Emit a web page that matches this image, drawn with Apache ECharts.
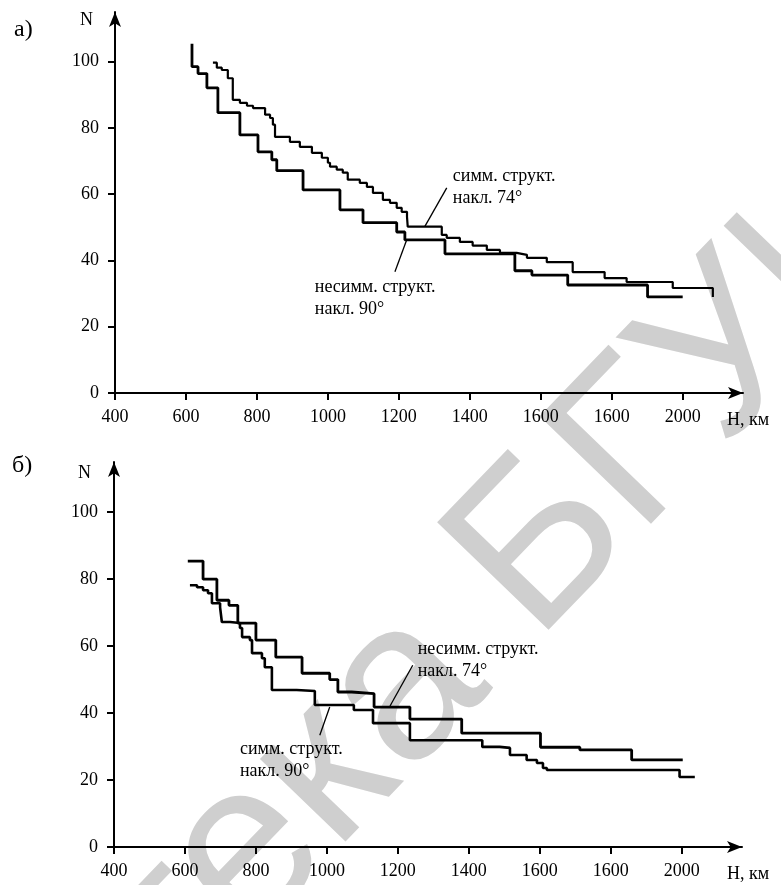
<!DOCTYPE html>
<html>
<head>
<meta charset="utf-8">
<script src="https://cdn.jsdelivr.net/npm/echarts@6/dist/echarts.min.js"></script>
<style>
  html, body { margin: 0; padding: 0; background: #fff; }
  #main { width: 781px; height: 885px; }
</style>
</head>
<body>
<div id="main"></div>
<script>
// tick values and labels (the scan prints "1600" twice)
var xTickValues = [400, 600, 800, 1000, 1200, 1400, 1600, 1800, 2000];
var xTickLabels = ["400", "600", "800", "1000", "1200", "1400", "1600", "1600", "2000"];
var yTickValues = [0, 20, 40, 60, 80, 100];

// panel а) : [H, N], each point starts a horizontal step
var symm74A = [
  [676, 99.7], [687, 98.2], [701, 97.5], [718, 95], [732, 88.5], [752, 87.6],
  [772, 86.7], [789, 86], [823, 84], [837, 83], [845, 81], [851, 77.3],
  [893, 75.8], [921, 74.3], [955, 72.5], [983, 71], [1000, 69.5], [1006, 68.3],
  [1025, 67.4], [1042, 66.5], [1056, 64.4], [1090, 63.4], [1110, 62.2], [1127, 60.4],
  [1155, 58.3], [1175, 57.4], [1194, 55.9], [1208, 54.7], [1223, 53.2], [1225, 50.2],
  [1321, 47.7], [1335, 46.8], [1372, 45.6], [1408, 44.5], [1448, 43.2], [1485, 42.3],
  [1532, 41.7], [1561, 40.8], [1617, 39.5], [1690, 36.5], [1780, 34.7], [1842, 33.5],
  [1972, 31.7], [2085, 31.7], [2085, 29]
];
var nesymm90A = [
  [617, 105.4], [617, 98.5], [634, 96.4], [659, 92.1], [690, 84.6], [752, 77.9],
  [803, 72.8], [842, 70.4], [856, 67.1], [930, 61.3], [1034, 55.3], [1099, 51.4],
  [1194, 48.6], [1217, 46.2], [1330, 42], [1527, 36.9], [1575, 35.6], [1676, 32.6],
  [1901, 29], [2000, 29]
];

// panel б)
var nesymm74B = [
  [608, 85.4], [651, 80], [690, 73.7], [724, 72.2], [749, 66.9], [800, 61.8],
  [856, 56.7], [930, 51.9], [1008, 50], [1031, 46.3], [1070, 45.8], [1133, 41.8],
  [1234, 38.2], [1380, 34], [1602, 29.8], [1713, 29], [1859, 26], [2003, 26]
];
var symm90B = [
  [614, 78.2], [634, 77.6], [651, 76.7], [665, 75.8], [676, 72.8], [699, 71.6],
  [704, 67.2], [727, 66.9], [755, 65.4], [761, 62.7], [783, 61.8], [789, 57.9],
  [817, 56.4], [825, 53.7], [845, 46.9], [915, 46.6], [966, 42.4], [1076, 40.9],
  [1130, 37], [1234, 31.9], [1438, 29.9], [1487, 29.6], [1516, 27.5], [1563, 26],
  [1592, 25.1], [1609, 23.6], [1620, 23], [1994, 20.9], [2037, 20.9]
];

// annotations: text anchor [H, N] and pointer line from/to [H, N]
var notes = [
  { grid: 0, text: "симм. структ.\nнакл. 74°", at: [1352, 68.8], from: [1335, 61.9], to: [1273, 50.2] },
  { grid: 0, text: "несимм. структ.\nнакл. 90°", at: [963, 35.2], from: [1189, 36.6], to: [1222, 46.2] },
  { grid: 1, text: "несимм. структ.\nнакл. 74°", at: [1256, 62.3], from: [1242, 54.3], to: [1178, 42.1] },
  { grid: 1, text: "симм. структ.\nнакл. 90°", at: [755, 32.5], from: [980, 33.4], to: [1008, 41.8] }
];

var serif = "Liberation Serif";
var black = "#000";

function xAxisFor(gi) {
  return {
    type: "value", gridIndex: gi, min: 400, max: 2170,
    axisLine: { show: true, lineStyle: { color: black, width: 2 }, symbol: ["none", "arrow"], symbolSize: [9, 15] },
    axisTick: { show: true, customValues: xTickValues, length: 7, lineStyle: { color: black, width: 2 } },
    axisLabel: {
      customValues: xTickValues, margin: 15, color: black, fontFamily: serif, fontSize: 18,
      formatter: function (v) { return xTickLabels[xTickValues.indexOf(v)]; }
    },
    splitLine: { show: false }
  };
}
function yAxisFor(gi) {
  return {
    type: "value", gridIndex: gi, min: 0, max: 115,
    axisLine: { show: true, lineStyle: { color: black, width: 2 }, symbol: ["none", "arrow"], symbolSize: [9, 15] },
    axisTick: { show: true, customValues: yTickValues, length: 7, lineStyle: { color: black, width: 2 } },
    axisLabel: { customValues: yTickValues, margin: 16, color: black, fontFamily: serif, fontSize: 18 },
    splitLine: { show: false }
  };
}
function stepSeries(name, data, gi, w) {
  return {
    name: name, type: "line", step: "end", data: data, xAxisIndex: gi, yAxisIndex: gi,
    showSymbol: false, animation: false, z: 3,
    lineStyle: { color: black, width: w }
  };
}

var fixedTexts = [
  { type: "text", x: 14, y: 18, style: { text: "а)", font: "24px " + serif, fill: black } },
  { type: "text", x: 80, y: 11, style: { text: "N", font: "18px " + serif, fill: black } },
  { type: "text", x: 727, y: 411, style: { text: "H, км", font: "18px " + serif, fill: black } },
  { type: "text", x: 12, y: 454, style: { text: "б)", font: "24px " + serif, fill: black } },
  { type: "text", x: 78, y: 464, style: { text: "N", font: "18px " + serif, fill: black } },
  { type: "text", x: 727, y: 865, style: { text: "H, км", font: "18px " + serif, fill: black } }
];
// faint library watermark across the page
var wmFont = "225px 'Liberation Sans'";
var wmTurn = 46 * Math.PI / 180;
var watermark = [
  { type: "text", x: 449, y: 645, rotation: wmTurn, z: -10, silent: true,
    style: { text: "Библиотека", font: wmFont, fill: "#cfcfcf", align: "right", verticalAlign: "middle" } },
  { type: "text", x: 491, y: 600, rotation: wmTurn, z: -10, silent: true,
    style: { text: "БГУИР", font: wmFont, fill: "#cfcfcf", align: "left", verticalAlign: "middle" } }
];

var myChart = echarts.init(document.getElementById("main"), null, { renderer: "canvas" });
var option = {
  backgroundColor: "#fff",
  animation: false,
  grid: [
    { left: 115, right: 38, top: 12, bottom: 492 },
    { left: 114, right: 39, top: 462, bottom: 38 }
  ],
  xAxis: [xAxisFor(0), xAxisFor(1)],
  yAxis: [yAxisFor(0), yAxisFor(1)],
  series: [
    stepSeries("симм. структ. накл. 74°", symm74A, 0, 2.2),
    stepSeries("несимм. структ. накл. 90°", nesymm90A, 0, 2.8),
    stepSeries("несимм. структ. накл. 74°", nesymm74B, 1, 2.8),
    stepSeries("симм. структ. накл. 90°", symm90B, 1, 2.6)
  ],
  graphic: watermark.concat(fixedTexts)
};
myChart.setOption(option);

// place annotation texts and pointer lines from data coordinates
var extra = [];
notes.forEach(function (n) {
  var p = myChart.convertToPixel({ gridIndex: n.grid }, n.at);
  var a = myChart.convertToPixel({ gridIndex: n.grid }, n.from);
  var b = myChart.convertToPixel({ gridIndex: n.grid }, n.to);
  extra.push({ type: "text", x: p[0], y: p[1], z: 5,
    style: { text: n.text, font: "18px " + serif, fill: black, lineHeight: 22 } });
  extra.push({ type: "line", z: 5, shape: { x1: a[0], y1: a[1], x2: b[0], y2: b[1] },
    style: { stroke: black, lineWidth: 1.3 } });
});
myChart.setOption({ graphic: watermark.concat(fixedTexts).concat(extra) });
</script>
</body>
</html>
